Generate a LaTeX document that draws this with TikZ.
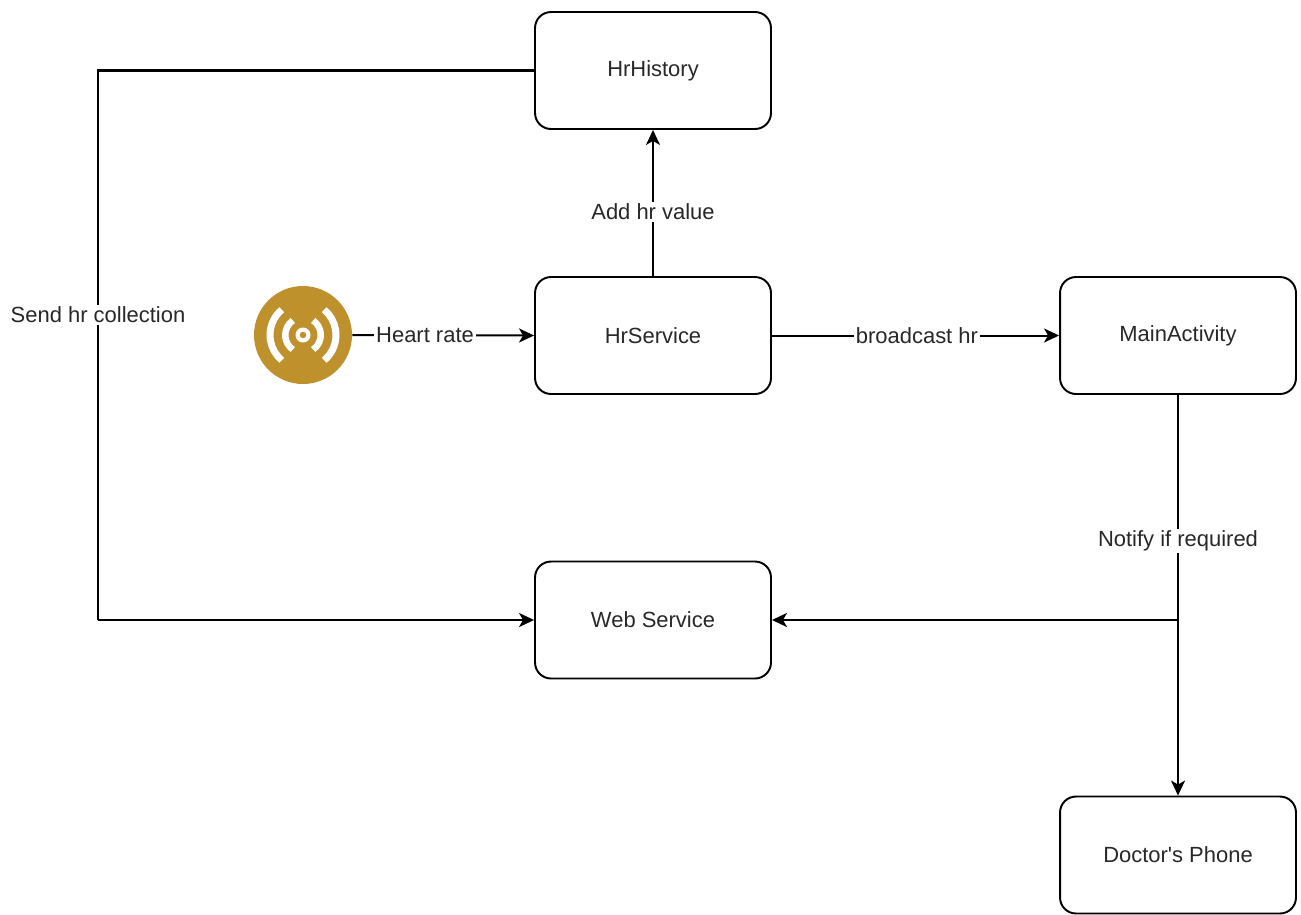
\documentclass[tikz,border=0pt]{standalone}
\usepackage{fontspec}
\setmainfont{Liberation Sans}
\usetikzlibrary{arrows.meta}
\definecolor{gold}{RGB}{191,145,45}
\definecolor{txt}{RGB}{40,40,40}
\tikzset{
  box/.style={draw=black, line width=1.1pt, rounded corners=0.32cm, minimum width=4.72cm, minimum height=2.34cm, inner sep=0pt, font=\fontsize{12.5}{15}\selectfont, text=txt},
  conn/.style={line width=1.15pt, draw=black},
  arr/.style={conn, -{Stealth[length=0.3cm, width=0.28cm, inset=0.08cm]}},
  lab/.style={fill=white, inner sep=1pt, font=\fontsize{12.5}{15}\selectfont, text=txt},
}
\begin{document}
\begin{tikzpicture}[x=0.02cm, y=-0.02cm]
\useasboundingbox (0,0) rectangle (1301,914);
% boxes
\node[box] (hist) at (653,70.5) {HrHistory};
\node[box] (serv) at (653,335.5) {HrService};
\node[box] (main) at (1178,335.5) {MainActivity};
\node[box] (web) at (653,620) {Web Service};
\node[box] (doc) at (1178,855) {Doctor\textquotesingle s Phone};
% sensor icon
\node[circle, fill=gold, minimum size=1.96cm, inner sep=0pt] (sensor) at (303,335) {};
\fill[white] (sensor.center) circle (0.15cm);
\fill[gold] (sensor.center) circle (0.065cm);
\begin{scope}[white, line width=0.13cm]
  \draw (sensor.center) ++(-55:0.355cm) arc (-55:55:0.355cm);
  \draw (sensor.center) ++(125:0.355cm) arc (125:235:0.355cm);
\end{scope}
\begin{scope}[white, line width=0.14cm]
  \draw (sensor.center) ++(-50:0.66cm) arc (-50:50:0.66cm);
  \draw (sensor.center) ++(130:0.66cm) arc (130:230:0.66cm);
\end{scope}
% connectors
\coordinate (tl) at (98,70.5);
\coordinate (bl) at (98,620);
\coordinate (jn) at (1178,620);
\draw[arr] (serv.north) -- node[lab, pos=0.44] {Add hr value} (hist.south);
\draw[arr] (sensor.east) -- node[lab, pos=0.40] {Heart rate} (serv.west);
\draw[arr] (serv.east) -- node[lab, pos=0.505] {broadcast hr} (main.west);
\draw[conn] (hist.west) -- (tl) -- node[lab, pos=0.445] {Send hr collection} (bl);
\draw[arr] (bl) -- (web.west);
\draw[conn] (main.south) -- node[lab, pos=0.65] {Notify if required} (jn);
\draw[arr] (jn) -- (web.east);
\draw[arr] (jn) -- (doc.north);
\end{tikzpicture}
\end{document}
